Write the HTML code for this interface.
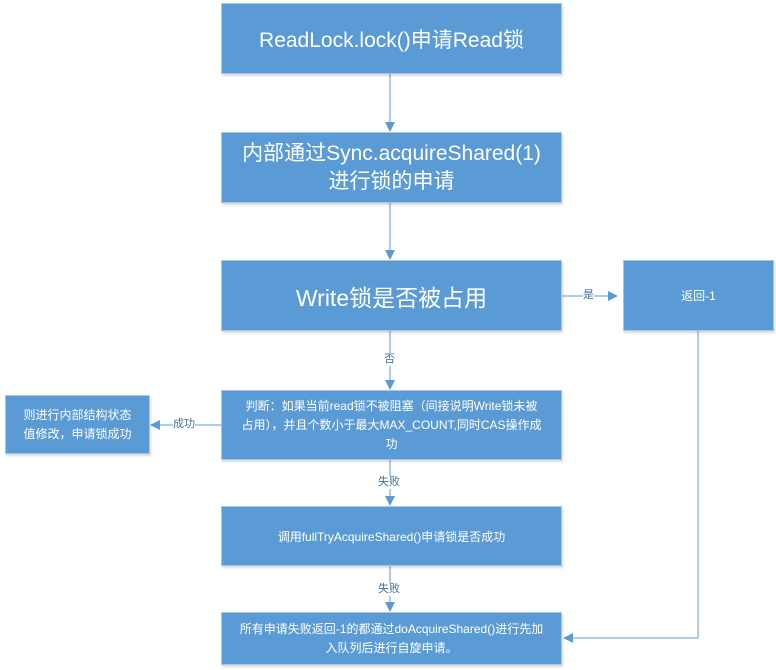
<!DOCTYPE html>
<html><head><meta charset="utf-8"><style>
body{margin:0;width:776px;height:670px;background:#fff;position:relative;overflow:hidden;font-family:"Liberation Sans","Noto Sans CJK SC",sans-serif;}
.b{position:absolute;background:#5b9bd5;border:1px solid #a9c6e6;box-shadow:1px 2px 2px rgba(0,0,0,0.15);color:#fff;display:flex;align-items:center;justify-content:center;text-align:center;box-sizing:border-box;}
.l{position:absolute;font-size:11px;color:#41719c;background:#fff;line-height:13px;}
</style></head><body>
<svg width="776" height="670" style="position:absolute;left:0;top:0">
<defs><marker id="a" markerWidth="10" markerHeight="10" refX="9" refY="5" orient="auto" markerUnits="userSpaceOnUse"><path d="M0,0 L10,5 L0,10 z" fill="#5b9bd5"/></marker></defs>
<g stroke="#5b9bd5" stroke-width="1" fill="none">
<line x1="390" y1="74" x2="390" y2="131" marker-end="url(#a)"/>
<line x1="390" y1="203" x2="390" y2="259" marker-end="url(#a)"/>
<line x1="390" y1="331" x2="390" y2="389" marker-end="url(#a)"/>
<line x1="562" y1="296" x2="617" y2="296" marker-end="url(#a)"/>
<line x1="221" y1="425" x2="151" y2="425" marker-end="url(#a)"/>
<line x1="390" y1="460" x2="390" y2="505" marker-end="url(#a)"/>
<line x1="390" y1="566" x2="390" y2="611" marker-end="url(#a)"/>
<polyline points="698,331 698,638 564,638" marker-end="url(#a)"/>
</g></svg>
<div class="b" style="left:221px;top:3px;width:341px;height:71px;font-size:21px">ReadLock.lock()申请Read锁</div>
<div class="b" style="left:221px;top:132px;width:341px;height:71px;font-size:21px;line-height:28px">内部通过Sync.acquireShared(1)<br>进行锁的申请</div>
<div class="b" style="left:221px;top:260px;width:341px;height:71px;font-size:23px">Write锁是否被占用</div>
<div class="b" style="left:623px;top:260px;width:151px;height:71px;font-size:12px">返回-1</div>
<div class="b" style="left:221px;top:390px;width:341px;height:70px;font-size:12px;line-height:19px;padding:0 10px">判断：如果当前read锁不被阻塞（间接说明Write锁未被<br>占用），并且个数小于最大MAX_COUNT,同时CAS操作成<br>功</div>
<div class="b" style="left:5px;top:395px;width:145px;height:59px;font-size:12px;line-height:19px;padding:0 6px">则进行内部结构状态<br>值修改，申请锁成功</div>
<div class="b" style="left:221px;top:506px;width:341px;height:60px;font-size:12px">调用fullTryAcquireShared()申请锁是否成功</div>
<div class="b" style="left:221px;top:612px;width:341px;height:53px;font-size:12px;line-height:19px;padding:0 6px">所有申请失败返回-1的都通过doAcquireShared()进行先加<br>入队列后进行自旋申请。</div>
<div class="l" style="left:583px;top:289px">是</div>
<div class="l" style="left:384px;top:353px">否</div>
<div class="l" style="left:173px;top:418px">成功</div>
<div class="l" style="left:378px;top:476px">失败</div>
<div class="l" style="left:378px;top:583px">失败</div>
</body></html>
